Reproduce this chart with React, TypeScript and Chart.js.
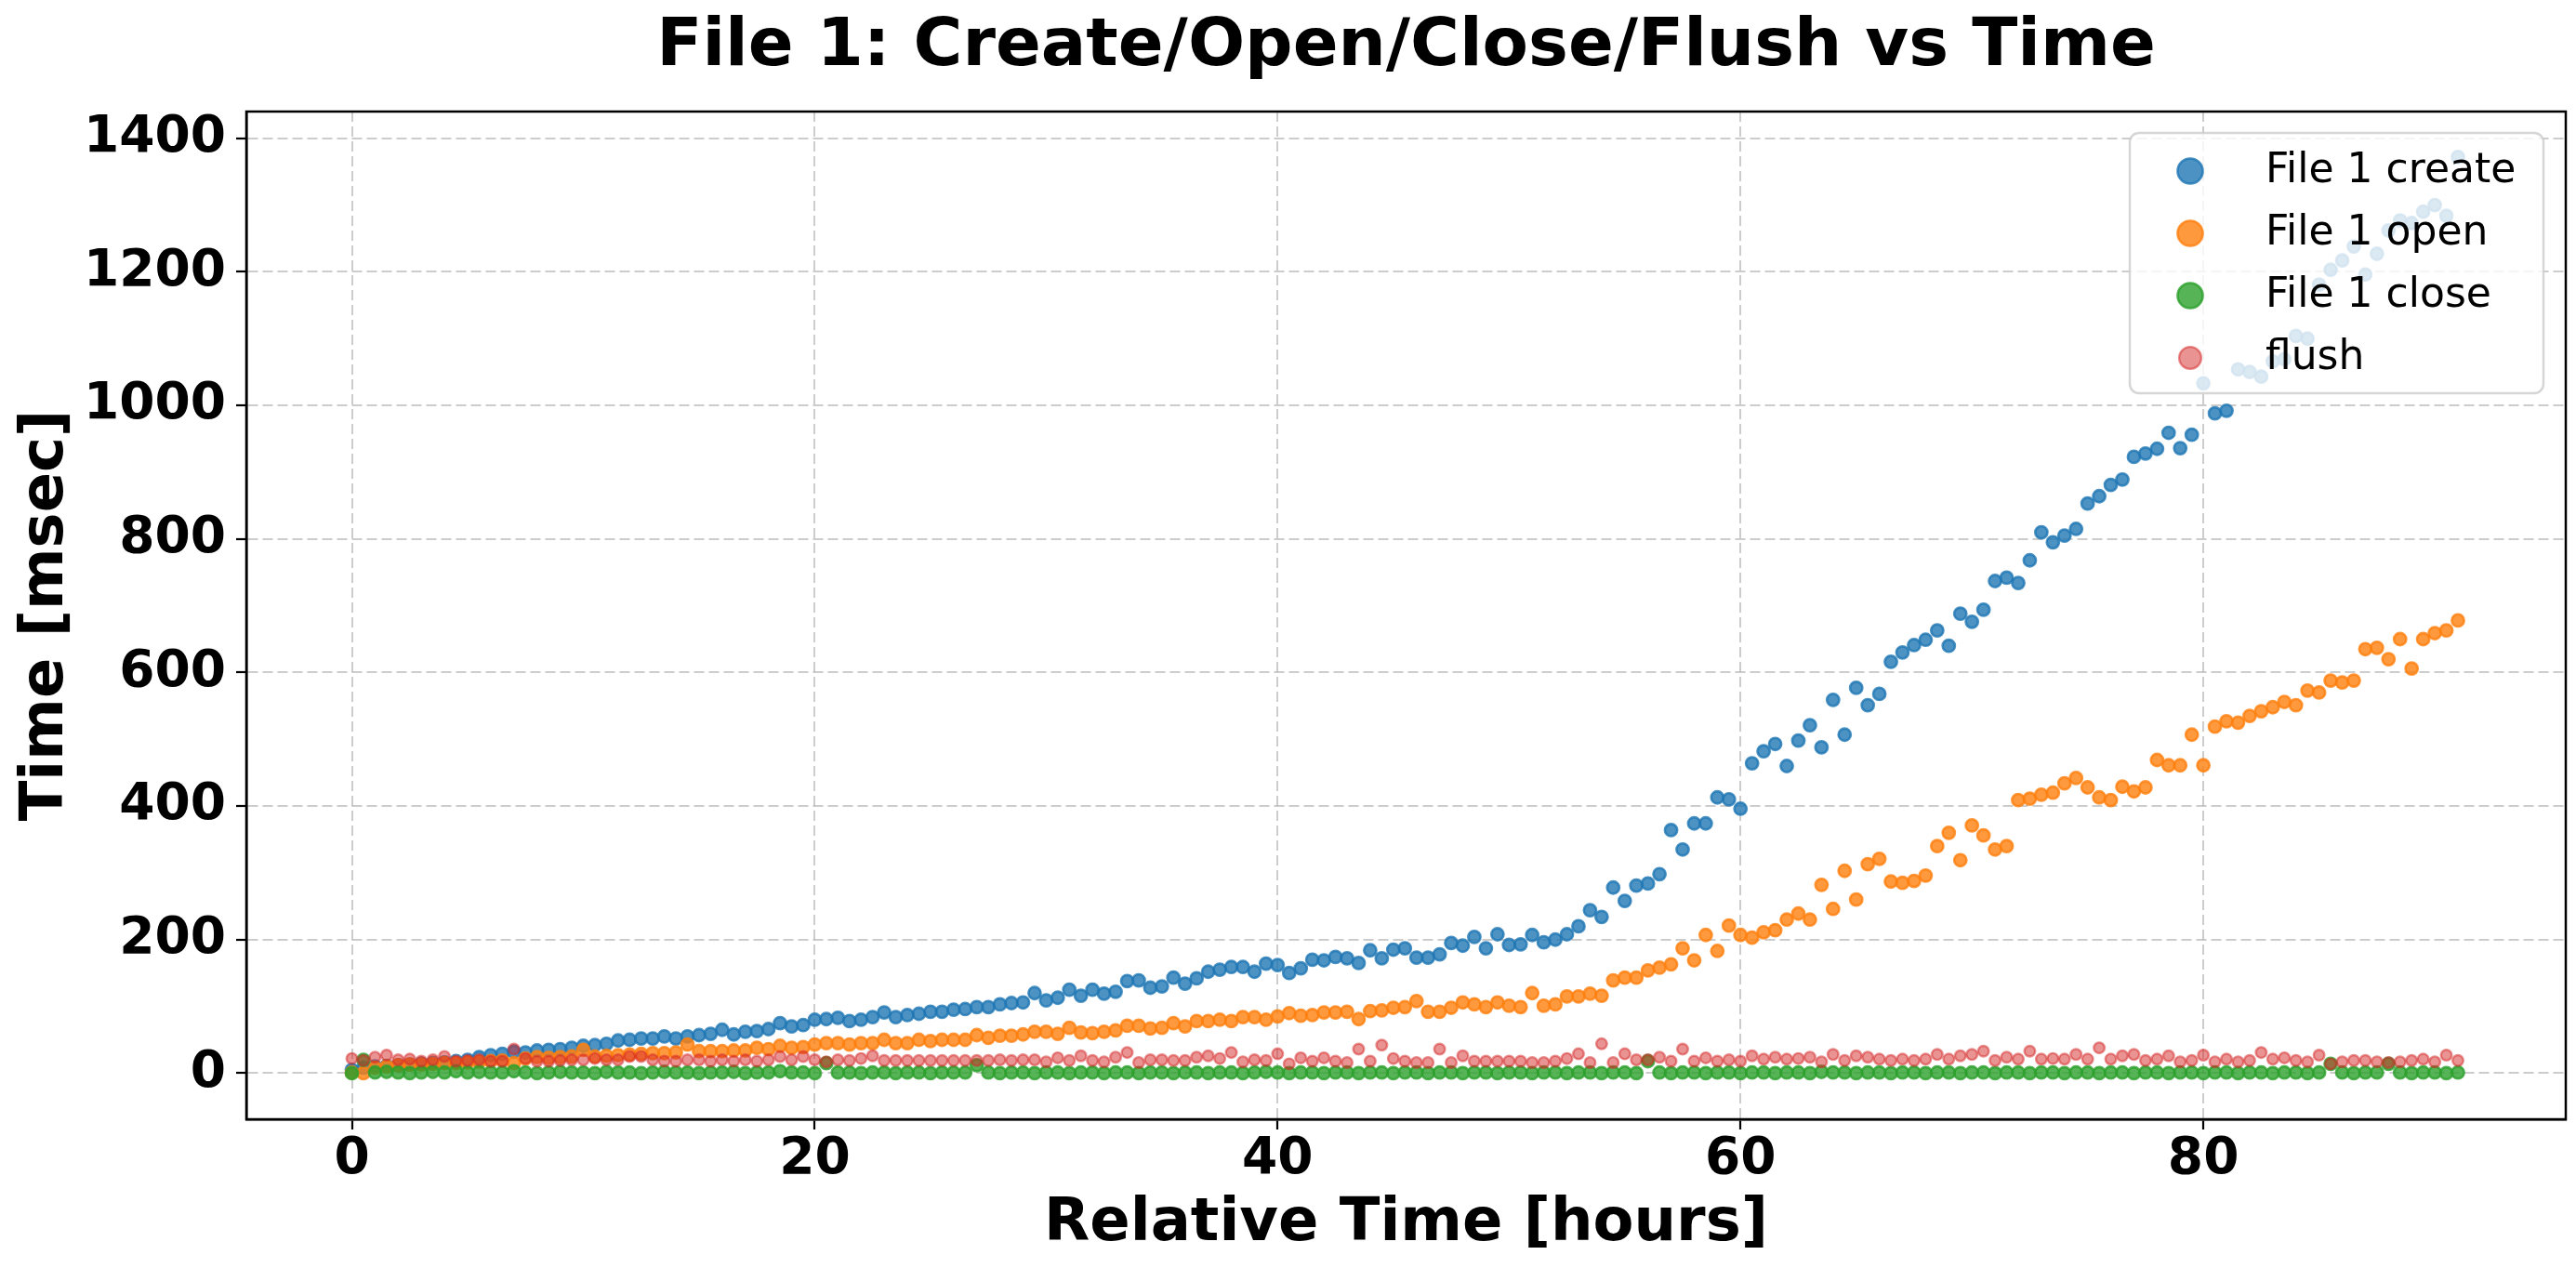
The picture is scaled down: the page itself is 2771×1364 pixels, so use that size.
import { useEffect, useRef } from 'react';
import { Chart, registerables } from 'chart.js';

Chart.register(...registerables);

// sample times, one every half hour
const hours = [
  0, 0.5, 1, 1.5, 2, 2.5, 3, 3.5, 4, 4.5,
  5, 5.5, 6, 6.5, 7, 7.5, 8, 8.5, 9, 9.5,
  10, 10.5, 11, 11.5, 12, 12.5, 13, 13.5, 14, 14.5,
  15, 15.5, 16, 16.5, 17, 17.5, 18, 18.5, 19, 19.5,
  20, 20.5, 21, 21.5, 22, 22.5, 23, 23.5, 24, 24.5,
  25, 25.5, 26, 26.5, 27, 27.5, 28, 28.5, 29, 29.5,
  30, 30.5, 31, 31.5, 32, 32.5, 33, 33.5, 34, 34.5,
  35, 35.5, 36, 36.5, 37, 37.5, 38, 38.5, 39, 39.5,
  40, 40.5, 41, 41.5, 42, 42.5, 43, 43.5, 44, 44.5,
  45, 45.5, 46, 46.5, 47, 47.5, 48, 48.5, 49, 49.5,
  50, 50.5, 51, 51.5, 52, 52.5, 53, 53.5, 54, 54.5,
  55, 55.5, 56, 56.5, 57, 57.5, 58, 58.5, 59, 59.5,
  60, 60.5, 61, 61.5, 62, 62.5, 63, 63.5, 64, 64.5,
  65, 65.5, 66, 66.5, 67, 67.5, 68, 68.5, 69, 69.5,
  70, 70.5, 71, 71.5, 72, 72.5, 73, 73.5, 74, 74.5,
  75, 75.5, 76, 76.5, 77, 77.5, 78, 78.5, 79, 79.5,
  80, 80.5, 81, 81.5, 82, 82.5, 83, 83.5, 84, 84.5,
  85, 85.5, 86, 86.5, 87, 87.5, 88, 88.5, 89, 89.5,
  90, 90.5, 91,
];

const createMs = [
  5, 8, 10, 11, 12, 13, 14, 15, 16, 18,
  20, 24, 27, 29, 32, 31, 34, 35, 36, 38,
  41, 42, 44, 49, 50, 52, 52, 55, 52, 55,
  57, 59, 65, 58, 62, 63, 66, 75, 70, 72,
  80, 81, 83, 78, 80, 84, 91, 84, 87, 89,
  92, 92, 95, 96, 99, 99, 103, 105, 106, 120,
  109, 113, 125, 116, 125, 119, 122, 138, 139, 128,
  130, 143, 134, 142, 152, 155, 159, 159, 152, 164,
  162, 150, 157, 170, 169, 174, 172, 165, 184, 172,
  185, 187, 173, 173, 178, 195, 191, 204, 187, 208,
  192, 193, 207, 196, 200, 208, 220, 244, 234, 278,
  258, 281, 284, 298, 364, 335, 374, 374, 413, 410,
  396, 464, 482, 493, 460, 498, 521, 488, 559, 507,
  577, 551, 568, 616, 630, 641, 649, 663, 640, 688,
  676, 694, 737, 742, 734, 768, 810, 795, 805, 815,
  853, 864, 881, 889, 923, 928, 935, 959, 936, 956,
  1033, 988, 992, 1054, 1050, 1043, 1066, 1069, 1104, 1100,
  1181, 1203, 1217, 1238, 1196, 1227, 1262, 1277, 1273, 1290,
  1300, 1284, 1372,
];

const openMs = [
  1, 0, 8, 10, 12, 13, 13, 14, 15, 15,
  16, 17, 18, 19, 15, 22, 24, 23, 24, 25,
  35, 25, 26, 27, 28, 29, 30, 30, 31, 43,
  33, 33, 33, 34, 34, 38, 36, 41, 38, 39,
  43, 45, 45, 43, 45, 45, 50, 45, 45, 50,
  48, 50, 50, 50, 57, 53, 56, 56, 58, 62,
  62, 59, 68, 61, 60, 62, 64, 71, 71, 67,
  68, 75, 70, 78, 78, 80, 78, 84, 84, 80,
  85, 90, 86, 87, 91, 91, 92, 81, 93, 94,
  98, 99, 108, 92, 92, 98, 106, 103, 99, 106,
  101, 99, 120, 101, 103, 115, 115, 119, 116, 139,
  143, 143, 154, 158, 163, 187, 169, 207, 183, 221,
  207, 203, 211, 214, 230, 239, 230, 282, 246, 303,
  260, 313, 321, 287, 285, 288, 296, 340, 360, 319,
  371, 356, 335, 340, 409, 411, 417, 420, 434, 442,
  428, 413, 409, 429, 422, 428, 469, 461, 461, 507,
  461, 519, 527, 525, 535, 542, 548, 556, 551, 573,
  570, 588, 585, 588, 635, 637, 620, 650, 606, 650,
  659, 663, 678,
];

const closeMs = [
  0, 20, 1, 2, 1, 0, 1, 2, 1, 3,
  1, 2, 1, 1, 3, 1, 0, 1, 2, 1,
  1, 0, 2, 1, 1, 0, 1, 2, 1, 1,
  0, 1, 1, 2, 0, 1, 1, 3, 1, 1,
  0, 15, 1, 1, 0, 1, 1, 0, 1, 1,
  0, 1, 1, 1, 12, 1, 0, 1, 1, 0,
  1, 1, 0, 1, 1, 0, 1, 1, 0, 1,
  1, 0, 1, 1, 0, 1, 1, 0, 1, 2,
  1, 0, 1, 1, 0, 1, 1, 0, 1, 1,
  0, 1, 1, 0, 1, 1, 0, 1, 1, 0,
  1, 1, 0, 1, 1, 0, 1, 1, 0, 1,
  1, 0, 18, 1, 0, 1, 1, 0, 1, 1,
  0, 1, 1, 0, 1, 1, 0, 2, 1, 1,
  0, 1, 1, 0, 1, 1, 0, 1, 1, 0,
  1, 1, 0, 1, 1, 0, 1, 1, 0, 1,
  1, 0, 1, 1, 0, 1, 1, 0, 1, 1,
  0, 1, 1, 0, 1, 1, 0, 1, 1, 0,
  1, 14, 1, 0, 1, 1, 14, 1, 0, 1,
  1, 0, 1,
];

const flushMs = [
  22, 19, 24, 27, 20, 21, 18, 20, 25, 18,
  19, 20, 18, 18, 36, 22, 18, 18, 19, 20,
  20, 22, 20, 20, 25, 25, 20, 18, 18, 20,
  20, 18, 20, 18, 20, 18, 20, 25, 20, 25,
  20, 17, 20, 19, 22, 26, 19, 19, 19, 19,
  19, 19, 19, 19, 19, 19, 20, 19, 20, 20,
  17, 23, 19, 26, 19, 17, 24, 31, 16, 20,
  20, 19, 19, 24, 26, 22, 31, 17, 20, 19,
  29, 14, 23, 18, 23, 18, 16, 36, 18, 42,
  22, 18, 16, 16, 36, 16, 26, 18, 18, 18,
  18, 18, 16, 16, 18, 22, 29, 16, 44, 16,
  29, 20, 20, 24, 18, 36, 18, 23, 18, 20,
  18, 26, 21, 24, 21, 22, 24, 17, 28, 19,
  26, 24, 21, 19, 21, 19, 21, 28, 21, 26,
  28, 33, 19, 24, 21, 33, 21, 22, 21, 28,
  21, 38, 21, 26, 28, 19, 21, 26, 17, 19,
  27, 17, 21, 17, 19, 31, 21, 23, 19, 17,
  27, 14, 17, 19, 19, 17, 16, 17, 19, 21,
  17, 27, 19,
];

const xTicks = [0, 20, 40, 60, 80];
const yTicks = [0, 200, 400, 600, 800, 1000, 1200, 1400];

const FONT = '"DejaVu Sans", sans-serif';
const TITLE = 'File 1: Create/Open/Close/Flush vs Time';

const toPoints = (ys: number[]) => hours.map((x, i) => ({ x, y: ys[i] }));

// spines, title and the boxed legend inside the axes, drawn the way matplotlib does
const decorPlugin = {
  id: 'decor',
  afterDatasetsDraw(chart: any) {
    const { ctx, chartArea: a } = chart;
    ctx.save();
    ctx.strokeStyle = '#000';
    ctx.lineWidth = 2.5;
    ctx.strokeRect(a.left, a.top, a.right - a.left, a.bottom - a.top);
    ctx.restore();
  },
  afterDraw(chart: any) {
    const { ctx, chartArea: a } = chart;
    ctx.save();
    ctx.fillStyle = '#000';
    ctx.font = `bold 72px ${FONT}`;
    ctx.textAlign = 'center';
    ctx.textBaseline = 'alphabetic';
    ctx.fillText(TITLE, (a.left + a.right) / 2, 70);

    const boxW = 445;
    const boxH = 280;
    const bx = a.right - 24 - boxW;
    const by = a.top + 23;
    ctx.beginPath();
    ctx.roundRect(bx, by, boxW, boxH, 10);
    ctx.fillStyle = 'rgba(255,255,255,0.8)';
    ctx.fill();
    ctx.lineWidth = 2.5;
    ctx.strokeStyle = 'rgba(204,204,204,0.8)';
    ctx.stroke();

    ctx.font = `44px ${FONT}`;
    ctx.textAlign = 'left';
    chart.data.datasets.forEach((ds: any, i: number) => {
      const cy = by + 41 + i * 67;
      const cx = bx + 65;
      ctx.beginPath();
      ctx.arc(cx, cy, ds.pointRadius * 2.05, 0, Math.PI * 2);
      ctx.fillStyle = ds.backgroundColor;
      ctx.fill();
      ctx.lineWidth = ds.borderWidth;
      ctx.strokeStyle = ds.borderColor;
      ctx.stroke();
      ctx.fillStyle = '#000';
      ctx.fillText(ds.label, bx + 146, cy + 11.5);
    });
    ctx.restore();
  },
};

const tickFont = { family: FONT, size: 55, weight: 'bold' as const, lineHeight: 1 };
const labelFont = { family: FONT, size: 64, weight: 'bold' as const, lineHeight: 1 };
const gridOpts = {
  color: 'rgba(176,176,176,0.65)',
  lineWidth: 2,
  tickColor: '#000',
  tickLength: 11,
  tickWidth: 2.2,
};
const borderOpts = { display: true, color: '#000', width: 2.5, dash: [11, 5] };

export default function App() {
  const canvasRef = useRef<HTMLCanvasElement>(null);
  const chartRef = useRef<Chart | null>(null);

  useEffect(() => {
    if (!canvasRef.current) return;
    const ctx = canvasRef.current.getContext('2d');
    if (!ctx) return;

    if (chartRef.current) {
      chartRef.current.destroy();
    }

    chartRef.current = new Chart(ctx, {
      type: 'scatter',
      data: {
        datasets: [
          {
            label: 'File 1 create',
            data: toPoints(createMs),
            backgroundColor: 'rgba(31,119,180,0.8)',
            borderColor: 'rgba(31,119,180,0.8)',
            pointRadius: 6.6,
            borderWidth: 2.6,
            order: 4,
          },
          {
            label: 'File 1 open',
            data: toPoints(openMs),
            backgroundColor: 'rgba(255,127,14,0.8)',
            borderColor: 'rgba(255,127,14,0.8)',
            pointRadius: 6.6,
            borderWidth: 2.6,
            order: 3,
          },
          {
            label: 'File 1 close',
            data: toPoints(closeMs),
            backgroundColor: 'rgba(44,160,44,0.8)',
            borderColor: 'rgba(44,160,44,0.8)',
            pointRadius: 6.6,
            borderWidth: 2.6,
            order: 2,
          },
          {
            label: 'flush',
            data: toPoints(flushMs),
            backgroundColor: 'rgba(214,39,40,0.5)',
            borderColor: 'rgba(214,39,40,0.5)',
            pointRadius: 5.8,
            borderWidth: 2.4,
            order: 1,
          },
        ],
      },
      options: {
        animation: false,
        responsive: true,
        maintainAspectRatio: false,
        events: [],
        layout: { padding: { top: 120, right: 11, bottom: 0, left: 0 } },
        plugins: {
          legend: { display: false },
          title: { display: false },
          tooltip: { enabled: false },
        },
        scales: {
          x: {
            type: 'linear',
            position: 'bottom',
            min: -4.56,
            max: 95.66,
            afterBuildTicks: (scale: any) => {
              scale.ticks = xTicks.map((v) => ({ value: v }));
            },
            afterFit: (scale: any) => {
              scale.height = 160;
            },
            ticks: {
              callback: (v: any) => String(v),
              font: tickFont,
              color: '#000',
              padding: 5,
              maxRotation: 0,
              autoSkip: false,
            },
            grid: gridOpts,
            border: borderOpts,
            title: {
              display: true,
              text: 'Relative Time [hours]',
              color: '#000',
              font: labelFont,
              padding: { top: 0, bottom: 15 },
            },
          },
          y: {
            type: 'linear',
            min: -69,
            max: 1440,
            afterBuildTicks: (scale: any) => {
              scale.ticks = yTicks.map((v) => ({ value: v }));
            },
            afterFit: (scale: any) => {
              scale.width = 265;
            },
            ticks: {
              callback: (v: any) => String(v),
              font: tickFont,
              color: '#000',
              padding: 11,
              autoSkip: false,
            },
            grid: gridOpts,
            border: borderOpts,
            title: {
              display: true,
              text: 'Time [msec]',
              color: '#000',
              font: labelFont,
              padding: { top: 18, bottom: 0 },
            },
          },
        },
      },
      plugins: [decorPlugin],
    });

    return () => {
      if (chartRef.current) {
        chartRef.current.destroy();
        chartRef.current = null;
      }
    };
  }, []);

  return (
    <div style={{ position: 'fixed', left: 0, top: 0, width: 2771, height: 1364, background: '#fff' }}>
      <canvas ref={canvasRef}></canvas>
    </div>
  );
}
